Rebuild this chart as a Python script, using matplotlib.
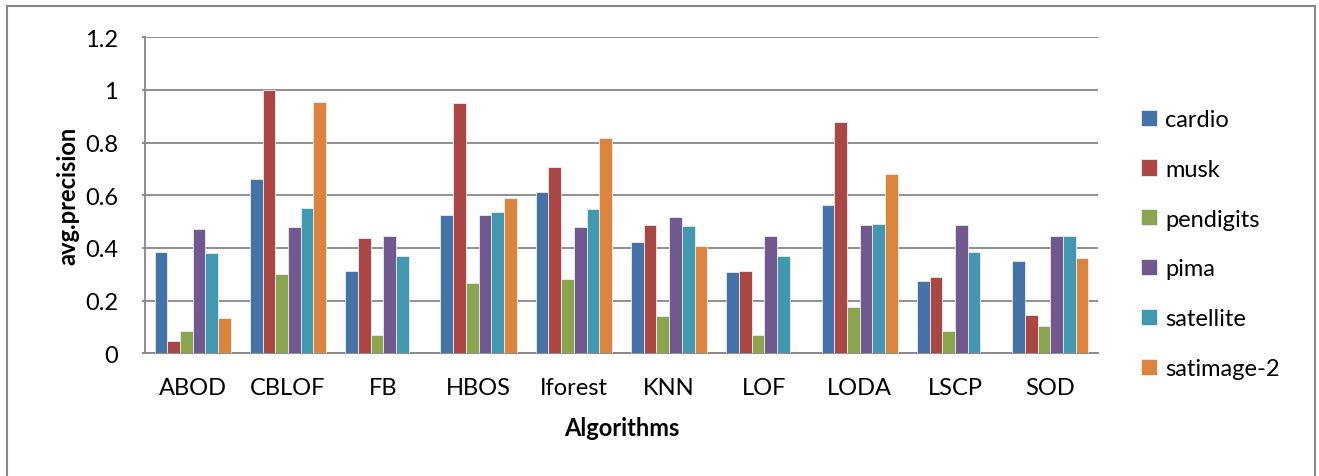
import numpy as np
import matplotlib
matplotlib.use("Agg")
import matplotlib.pyplot as plt
from matplotlib.patches import Rectangle

algorithms = ["ABOD", "CBLOF", "FB", "HBOS", "Iforest", "KNN", "LOF", "LODA", "LSCP", "SOD"]
datasets = ["cardio", "musk", "pendigits", "pima", "satellite", "satimage-2"]

cardio     = [0.386, 0.662, 0.312, 0.524, 0.612, 0.424, 0.310, 0.562, 0.274, 0.350]
musk       = [0.046, 1.000, 0.437, 0.951, 0.708, 0.486, 0.313, 0.878, 0.291, 0.144]
pendigits  = [0.085, 0.301, 0.068, 0.266, 0.284, 0.142, 0.068, 0.176, 0.085, 0.104]
pima       = [0.472, 0.480, 0.445, 0.527, 0.479, 0.517, 0.445, 0.489, 0.489, 0.445]
satellite  = [0.381, 0.550, 0.371, 0.537, 0.547, 0.484, 0.371, 0.491, 0.384, 0.446]
satimage_2 = [0.133, 0.956, 0.000, 0.589, 0.818, 0.407, 0.000, 0.680, 0.000, 0.361]

series = [cardio, musk, pendigits, pima, satellite, satimage_2]
colors = ["#4572A7", "#AA4643", "#89A54E", "#71588F", "#4198AF", "#DB843D"]

plt.rcParams["font.family"] = ["Lato", "DejaVu Sans"]
grid_color = "#878787"
fs = 17

fig = plt.figure(figsize=(13.19, 4.77), dpi=100)
ax = fig.add_axes([145 / 1319, 1 - 354.3 / 477, (1098 - 145) / 1319, (354.3 - 38.3) / 477])

x = np.arange(len(algorithms))
n = len(series)
width = 0.8 / n
for i, (vals, col, name) in enumerate(zip(series, colors, datasets)):
    offs = (i - (n - 1) / 2) * width
    ax.bar(x + offs, vals, width=width, color=col, edgecolor="#e8eef5",
           linewidth=0.6, label=name, zorder=3)

ax.set_xlim(-0.5, len(algorithms) - 0.5)
ax.set_ylim(0, 1.2)
ax.set_yticks(np.arange(0, 1.21, 0.2))
ax.set_yticklabels(["0", "0.2", "0.4", "0.6", "0.8", "1", "1.2"])
ax.set_xticks(x)
ax.set_xticklabels(algorithms)

ax.yaxis.grid(True, color=grid_color, linewidth=1.3, zorder=0)
ax.set_axisbelow(True)
for s in ["top", "right"]:
    ax.spines[s].set_visible(False)
for s in ["left", "bottom"]:
    ax.spines[s].set_color(grid_color)
    ax.spines[s].set_linewidth(1.3)

ax.tick_params(axis="y", length=2.5, width=1.3, color=grid_color, pad=17, labelsize=fs)
ax.tick_params(axis="x", length=0, pad=17, labelsize=fs)

ax.set_ylabel("avg.precision", fontsize=fs, fontweight="bold", labelpad=4)
ax.set_xlabel("Algorithms", fontsize=fs, fontweight="bold", labelpad=13)

leg = ax.legend(loc="center left", bbox_to_anchor=(1.035, 0.346), frameon=False,
                fontsize=fs, handlelength=0.68, handleheight=0.68,
                handletextpad=0.35, labelspacing=1.22, borderaxespad=0)

# outer chart border
fig.patches.append(Rectangle((7 / 1319, -0.05), (1315 - 7) / 1319, 1 - 7 / 477 + 0.05,
                             transform=fig.transFigure, fill=False,
                             edgecolor=grid_color, linewidth=1.5))

fig.savefig("out.png", dpi=100)
